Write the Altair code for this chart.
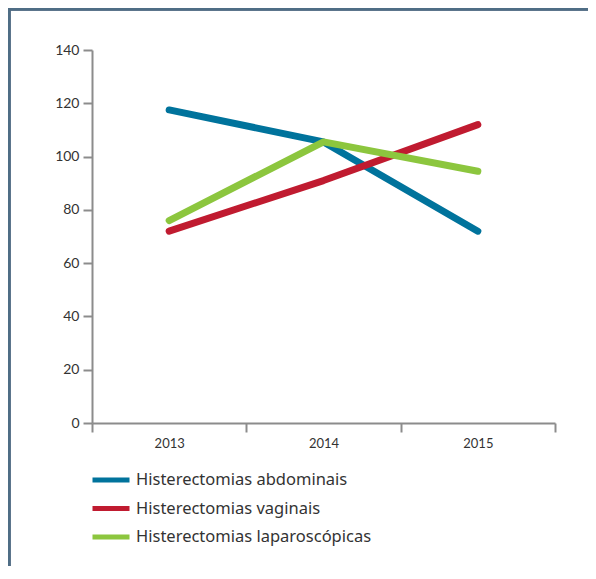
import altair as alt
import pandas as pd

years = ["2013", "2014", "2015"]
series = ["Histerectomias abdominais", "Histerectomias vaginais", "Histerectomias laparoscópicas"]
abdominais = [117.5, 105.5, 72]
vaginais = [72, 91, 112]
laparoscopicas = [76, 105.5, 94.5]
colors = ["#00739c", "#c01b30", "#8cc63e"]
y_ticks = [0, 20, 40, 60, 80, 100, 120, 140]

rows = []
for name, vals in zip(series, [abdominais, vaginais, laparoscopicas]):
    for yr, v in zip(years, vals):
        rows.append({"year": yr, "serie": name, "value": v})
df = pd.DataFrame(rows)

W, H = 463, 373
PL, PT, PR, PB = 84, 42, 33, 143

frame_color = "#4f6d85"
axis_color = "#8c8c8c"

lines = alt.Chart(df).mark_line(strokeWidth=7, strokeCap="round", strokeJoin="round").encode(
    x=alt.X("year:O", bandPosition=0.5,
            scale=alt.Scale(type="band", paddingInner=0, paddingOuter=0),
            axis=alt.Axis(title=None, labelAngle=0, tickBand="extent", domainColor=axis_color,
                          domainWidth=2, tickColor=axis_color, tickWidth=2, tickSize=9,
                          labelPadding=5, labelFontSize=13, labelColor="#333333",
                          labelFont="Lato")),
    y=alt.Y("value:Q", scale=alt.Scale(domain=[0, 140], nice=False),
            axis=alt.Axis(title=None, values=y_ticks, grid=False, domainColor=axis_color,
                          domainWidth=2, tickColor=axis_color, tickWidth=2, tickSize=9,
                          labelPadding=4, labelFontSize=14, labelColor="#333333",
                          labelFont="Lato")),
    color=alt.Color("serie:N", sort=series,
                    scale=alt.Scale(domain=series, range=colors),
                    legend=alt.Legend(title=None, orient="none", legendX=-2, legendY=420,
                                      symbolType="stroke", symbolSize=1369, symbolStrokeWidth=5,
                                      labelFontSize=16.5, labelFont="Noto Sans", labelColor="#333333",
                                      labelOffset=4, labelLimit=0, clipHeight=20, rowPadding=8.5,
                                      padding=0)),
)

top_line = alt.Chart(df).mark_rule(color=frame_color, strokeWidth=2.5).encode(
    x=alt.value(-PL), x2=alt.value(W + PR), y=alt.value(-PT + 1)
)
left_line = alt.Chart(df).mark_rule(color=frame_color, strokeWidth=2.5).encode(
    x=alt.value(-PL + 1), y=alt.value(-PT), y2=alt.value(H + PB)
)

chart = alt.layer(top_line, left_line, lines).properties(
    width=W, height=H,
    autosize=alt.AutoSizeParams(type="none"),
    padding={"left": PL, "top": PT, "right": PR, "bottom": PB},
).configure_view(stroke=None)

chart.save("out.html", embed_options={"renderer": "svg", "actions": False})
